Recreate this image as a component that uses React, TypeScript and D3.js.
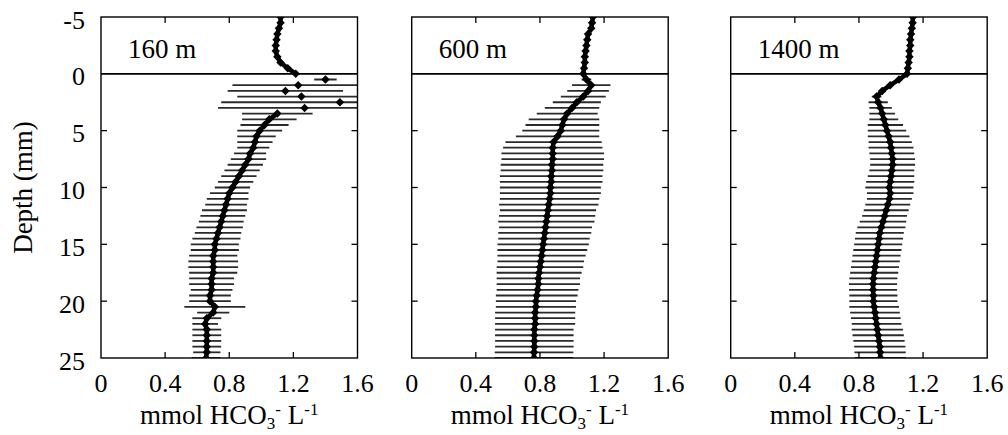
import React from 'react';
import * as d3 from 'd3';

// Depth (mm) of each measurement; negative = overlying water
const DEPTHS = [
  -5, -4.5, -4, -3.5, -3, -2.5, -2, -1.5, -1, -0.5, 0,
  0.5, 1, 1.5, 2, 2.5, 3, 3.5, 4, 4.5, 5,
  5.5, 6, 6.5, 7, 7.5, 8, 8.5, 9, 9.5, 10,
  10.5, 11, 11.5, 12, 12.5, 13, 13.5, 14, 14.5, 15,
  15.5, 16, 16.5, 17, 17.5, 18, 18.5, 19, 19.5, 20,
  20.5, 21, 21.5, 22, 22.5, 23, 23.5, 24, 24.5, 25,
];

const STATIONS = ['160 m', '600 m', '1400 m'];

// 160 m station
const MEAN_160 = [
  1.12, 1.12, 1.11, 1.10, 1.095, 1.09, 1.09, 1.10, 1.12, 1.165, 1.215,
  1.40, 1.23, 1.15, 1.25, 1.49, 1.27, 1.10, 1.05, 1.02, 0.99,
  0.97, 0.96, 0.95, 0.93, 0.92, 0.90, 0.88, 0.86, 0.84, 0.82,
  0.80, 0.79, 0.78, 0.77, 0.76, 0.75, 0.74, 0.73, 0.72, 0.71,
  0.71, 0.70, 0.70, 0.70, 0.70, 0.69, 0.69, 0.69, 0.68, 0.68,
  0.71, 0.70, 0.66, 0.65, 0.66, 0.66, 0.66, 0.66, 0.66, 0.655,
];
const SD_160 = [
  0, 0, 0, 0, 0, 0, 0, 0, 0, 0, 0,
  0.07, 0.41, 0.36, 0.40, 0.74, 0.54, 0.22, 0.17, 0.15, 0.14,
  0.12, 0.11, 0.10, 0.10, 0.11, 0.11, 0.11, 0.11, 0.11, 0.11,
  0.12, 0.13, 0.13, 0.14, 0.14, 0.14, 0.145, 0.145, 0.15, 0.15,
  0.15, 0.15, 0.155, 0.155, 0.15, 0.14, 0.14, 0.13, 0.13, 0.13,
  0.19, 0.10, 0.09, 0.08, 0.09, 0.09, 0.09, 0.09, 0.085, 0.09,
];

// 600 m station
const MEAN_600 = [
  1.13, 1.125, 1.12, 1.10, 1.095, 1.09, 1.085, 1.08, 1.08, 1.075, 1.07,
  1.09, 1.12, 1.10, 1.07, 1.03, 1.00, 0.97, 0.95, 0.94, 0.93,
  0.91, 0.885, 0.88, 0.88, 0.88, 0.875, 0.875, 0.87, 0.87, 0.865,
  0.865, 0.86, 0.855, 0.85, 0.845, 0.84, 0.835, 0.83, 0.825, 0.82,
  0.815, 0.81, 0.805, 0.80, 0.795, 0.79, 0.79, 0.785, 0.78, 0.775,
  0.775, 0.77, 0.77, 0.77, 0.765, 0.765, 0.765, 0.765, 0.763, 0.763,
];
const SD_600 = [
  0, 0, 0, 0, 0, 0, 0, 0, 0, 0, 0,
  0.03, 0.12, 0.13, 0.14, 0.15, 0.17, 0.19, 0.22, 0.23, 0.24,
  0.26, 0.30, 0.31, 0.32, 0.32, 0.32, 0.32, 0.32, 0.32, 0.315,
  0.315, 0.31, 0.31, 0.30, 0.30, 0.30, 0.29, 0.29, 0.285, 0.285,
  0.28, 0.275, 0.27, 0.27, 0.265, 0.26, 0.26, 0.255, 0.255, 0.25,
  0.25, 0.25, 0.25, 0.25, 0.245, 0.245, 0.245, 0.245, 0.245, 0.245,
];

// 1400 m station
const MEAN_1400 = [
  1.137, 1.135, 1.13, 1.125, 1.12, 1.12, 1.115, 1.115, 1.11, 1.105, 1.10,
  1.05, 0.995, 0.945, 0.91, 0.92, 0.935, 0.945, 0.955, 0.965, 0.975,
  0.985, 0.995, 1.0, 1.005, 1.01, 1.01, 1.005, 1.0, 0.995, 0.99,
  0.995, 0.99, 0.98, 0.97, 0.96, 0.95, 0.94, 0.93, 0.925, 0.92,
  0.915, 0.91, 0.905, 0.90, 0.895, 0.89, 0.888, 0.888, 0.89, 0.89,
  0.895, 0.90, 0.905, 0.91, 0.915, 0.92, 0.925, 0.93, 0.932, 0.934,
];
const SD_1400 = [
  0, 0, 0, 0, 0, 0, 0, 0, 0, 0, 0,
  0, 0, 0, 0.03, 0.06, 0.07, 0.08, 0.09, 0.11, 0.12,
  0.13, 0.135, 0.14, 0.14, 0.14, 0.14, 0.14, 0.145, 0.15, 0.15,
  0.145, 0.14, 0.14, 0.14, 0.14, 0.145, 0.15, 0.15, 0.15, 0.15,
  0.15, 0.15, 0.15, 0.15, 0.15, 0.15, 0.15, 0.15, 0.15, 0.15,
  0.155, 0.155, 0.155, 0.155, 0.16, 0.16, 0.16, 0.16, 0.16, 0.16,
];

const MEANS = [MEAN_160, MEAN_600, MEAN_1400];
const SDS = [SD_160, SD_600, SD_1400];

const X_TICKS = [0, 0.4, 0.8, 1.2, 1.6];
const X_TICK_LABELS = ['0', '0.4', '0.8', '1.2', '1.6'];
const Y_TICKS = [-5, 0, 5, 10, 15, 20, 25];
const Y_TICK_LABELS = ['-5', '0', '5', '10', '15', '20', '25'];

const W = 1008;
const H = 435;
const PANEL_LEFTS = [101, 411.7, 730.7];
const PANEL_W = 256.5;
const TOP = 17;
const BOTTOM = 358;
const FONT = 'Liberation Serif, Tinos, Times New Roman, Times, DejaVu Serif, serif';
const JUMP = 0.07;

const textStyle = { fontFamily: FONT };

function Panel({ idx }: { idx: number }) {
  const left = PANEL_LEFTS[idx];
  const x = d3.scaleLinear().domain([0, 1.6]).range([left, left + PANEL_W]);
  const y = d3.scaleLinear().domain([-5, 25]).range([TOP, BOTTOM]);
  const mean = MEANS[idx];
  const sd = SDS[idx];
  const pts = DEPTHS.map((d, i) => ({ d, m: mean[i], s: sd[i] }));

  // split into continuous runs (no line across large jumps)
  const runs: { d: number; m: number }[][] = [];
  let cur: { d: number; m: number }[] = [];
  pts.forEach((p, i) => {
    if (i > 0 && Math.abs(p.m - pts[i - 1].m) > JUMP) {
      runs.push(cur);
      cur = [];
    }
    cur.push(p);
  });
  runs.push(cur);
  const line = d3
    .line<{ d: number; m: number }>()
    .x((p) => x(p.m))
    .y((p) => y(p.d));

  const clipId = `clip-${idx}`;
  const tickLen = 6;
  const innerXTicks = X_TICKS.slice(1, -1);
  const innerYTicks = Y_TICKS.slice(1, -1).filter((t) => t !== 0);
  const cx = left + PANEL_W / 2;

  return (
    <g>
      <defs>
        <clipPath id={clipId}>
          <rect x={left} y={TOP} width={PANEL_W} height={BOTTOM - TOP} />
        </clipPath>
      </defs>
      <g clipPath={`url(#${clipId})`}>
        {pts
          .filter((p) => p.s > 0)
          .map((p, i) => (
            <line
              key={`e${i}`}
              x1={x(p.m - p.s)}
              x2={x(p.m + p.s)}
              y1={y(p.d)}
              y2={y(p.d)}
              stroke="#2a2a2a"
              strokeWidth={1.8}
            />
          ))}
        {runs
          .filter((r) => r.length > 1)
          .map((r, i) => (
            <path
              key={`l${i}`}
              d={line(r) || ''}
              fill="none"
              stroke="#000"
              strokeWidth={4.5}
              strokeLinejoin="round"
            />
          ))}
        {pts.map((p, i) => (
          <rect
            key={`m${i}`}
            x={-3}
            y={-3}
            width={6}
            height={6}
            fill="#000"
            transform={`translate(${x(p.m)},${y(p.d)}) rotate(45)`}
          />
        ))}
      </g>
      {/* sediment-water interface */}
      <line x1={left} x2={left + PANEL_W} y1={y(0)} y2={y(0)} stroke="#000" strokeWidth={1.6} />
      {/* frame */}
      <rect x={left} y={TOP} width={PANEL_W} height={BOTTOM - TOP} fill="none" stroke="#000" strokeWidth={1.4} />
      {innerXTicks.map((t) => (
        <g key={`xt${t}`}>
          <line x1={x(t)} x2={x(t)} y1={TOP} y2={TOP + tickLen} stroke="#000" strokeWidth={1.3} />
          <line x1={x(t)} x2={x(t)} y1={BOTTOM} y2={BOTTOM - tickLen} stroke="#000" strokeWidth={1.3} />
        </g>
      ))}
      {innerYTicks.map((t) => (
        <g key={`yt${t}`}>
          <line x1={left} x2={left + tickLen} y1={y(t)} y2={y(t)} stroke="#000" strokeWidth={1.3} />
          <line x1={left + PANEL_W} x2={left + PANEL_W - tickLen} y1={y(t)} y2={y(t)} stroke="#000" strokeWidth={1.3} />
        </g>
      ))}
      {X_TICKS.map((t, i) => (
        <text key={`xl${t}`} x={x(t)} y={392} textAnchor="middle" fontSize={26} style={textStyle} fill="#000">
          {X_TICK_LABELS[i]}
        </text>
      ))}
      <text x={cx} y={424} textAnchor="middle" fontSize={27} style={textStyle} fill="#000">
        mmol HCO
        <tspan dy={5} fontSize={17}>3</tspan>
        <tspan dy={-14} fontSize={17}>-</tspan>
        <tspan dy={9}> L</tspan>
        <tspan dy={-9} fontSize={17}>-1</tspan>
      </text>
      <text x={left + 27} y={58} fontSize={27} style={textStyle} fill="#000">
        {STATIONS[idx]}
      </text>
      {idx === 0 && (
        <g>
          {Y_TICKS.map((t, i) => (
            <text
              key={`yl${t}`}
              x={85}
              y={y(t) + 3}
              textAnchor="end"
              dominantBaseline="central"
              fontSize={26}
              style={textStyle}
              fill="#000"
            >
              {Y_TICK_LABELS[i]}
            </text>
          ))}
          <text
            transform={`translate(32,${(TOP + BOTTOM) / 2}) rotate(-90)`}
            textAnchor="middle"
            fontSize={27}
            style={textStyle}
            fill="#000"
          >
            Depth (mm)
          </text>
        </g>
      )}
    </g>
  );
}

export default function App() {
  return (
    <svg
      width={W}
      height={H}
      viewBox={`0 0 ${W} ${H}`}
      style={{ position: 'absolute', left: 0, top: 0, background: '#fff' }}
    >
      <rect x={0} y={0} width={W} height={H} fill="#fff" />
      {STATIONS.map((s, i) => (
        <Panel key={s} idx={i} />
      ))}
    </svg>
  );
}
